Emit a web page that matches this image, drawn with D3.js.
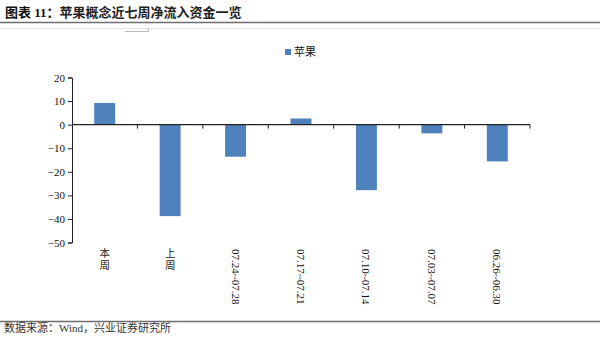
<!DOCTYPE html>
<html><head><meta charset="utf-8">
<script src="https://cdn.jsdelivr.net/npm/d3@7"></script>
<style>body{margin:0;background:#fff}svg{display:block}</style>
</head><body>
<svg id="c" width="600" height="337"></svg>
<script>
const categories = ["本周","上周","07.24~07.28","07.17~07.21","07.10~07.14","07.03~07.07","06.26~06.30"];
const values = [9.2, -38.8, -13.6, 2.6, -27.8, -3.7, -15.6];
const yTicks = [20,10,0,-10,-20,-30,-40,-50];
const seriesName = "苹果";
const titleLead = "图表 11：";
const titleText = "苹果概念近七周净流入资金一览";
const sourceText = "数据来源：Wind，兴业证券研究所";

const svg = d3.select("#c");
const serif = "'Liberation Serif','Times New Roman','Noto Sans CJK SC',serif";
const cjk = "'Liberation Serif','Noto Sans CJK SC',serif";

// header
const t = svg.append("text").attr("x",5).attr("y",17).attr("font-family",cjk).attr("font-size",13).attr("fill","#111");
t.append("tspan").attr("font-weight","bold").text(titleLead);
t.append("tspan").attr("font-weight",600).attr("fill","#222").text(titleText);
svg.append("line").attr("x1",0).attr("x2",600).attr("y1",22.5).attr("y2",22.5).attr("stroke","#6e6e6e").attr("stroke-width",1.3);
svg.append("line").attr("x1",0).attr("x2",600).attr("y1",28.5).attr("y2",28.5).attr("stroke","#e0e0e0").attr("stroke-width",1);
svg.append("path").attr("d","M125,31.5H148.5V28").attr("fill","none").attr("stroke","#bbb");

// footer
svg.append("line").attr("x1",0).attr("x2",600).attr("y1",321.5).attr("y2",321.5).attr("stroke","#6e6e6e").attr("stroke-width",1.3);
svg.append("text").attr("x",4).attr("y",332).attr("font-family",cjk).attr("font-size",11)
  .attr("fill","#333").text(sourceText);

// scales
const x = d3.scaleBand().domain(categories).range([72,530]).paddingInner(0).paddingOuter(0);
const y = d3.scaleLinear().domain([-50,20]).range([242.5,77.5]);

// bars
svg.append("g").selectAll("rect").data(values).join("rect")
  .attr("x",(d,i)=>x(categories[i])+x.bandwidth()*0.34)
  .attr("width",x.bandwidth()*0.32)
  .attr("y",d=>y(Math.max(0,d)))
  .attr("height",d=>Math.abs(y(d)-y(0)))
  .attr("fill","#4f81bd");

// y axis
const ya = svg.append("g").attr("transform","translate(72,0)")
  .call(d3.axisLeft(y).tickValues(yTicks).tickSize(4).tickPadding(3).tickFormat(d3.format("d")));
ya.select(".domain").attr("stroke","#222");
ya.selectAll(".tick line").attr("stroke","#222");
ya.selectAll("text").attr("font-family",serif).attr("font-size",11).attr("fill","#111");

// x axis at zero
const xa = svg.append("g").attr("transform",`translate(0,${y(0)})`);
xa.append("line").attr("x1",72).attr("x2",530).attr("stroke","#222").attr("stroke-width",1.2);
const bounds = categories.map((c,i)=>x(c)).concat([530]).slice(1);
xa.selectAll("line.t").data(bounds).join("line").attr("class","t")
  .attr("x1",d=>d).attr("x2",d=>d).attr("y1",0).attr("y2",4).attr("stroke","#222");

// category labels
categories.forEach((c,i)=>{
  const cx = x(c)+x.bandwidth()/2;
  if(/^\d/.test(c)){
    svg.append("text").attr("transform",`translate(${cx-4},249) rotate(90)`)
      .attr("font-family",serif).attr("font-size",11).attr("fill","#111").text(c);
  } else {
    const chars = c.split("");
    chars.forEach((ch,k)=>{
      svg.append("text").attr("x",cx).attr("y",257+k*12).attr("text-anchor","middle")
        .attr("font-family",cjk).attr("font-size",10.5).attr("fill","#222").text(ch);
    });
  }
});

// legend
svg.append("rect").attr("x",285).attr("y",49).attr("width",6).attr("height",6).attr("fill","#4f81bd");
svg.append("text").attr("x",294).attr("y",56).attr("font-family",cjk).attr("font-size",11).attr("fill","#111").text(seriesName);
</script>
</body></html>
